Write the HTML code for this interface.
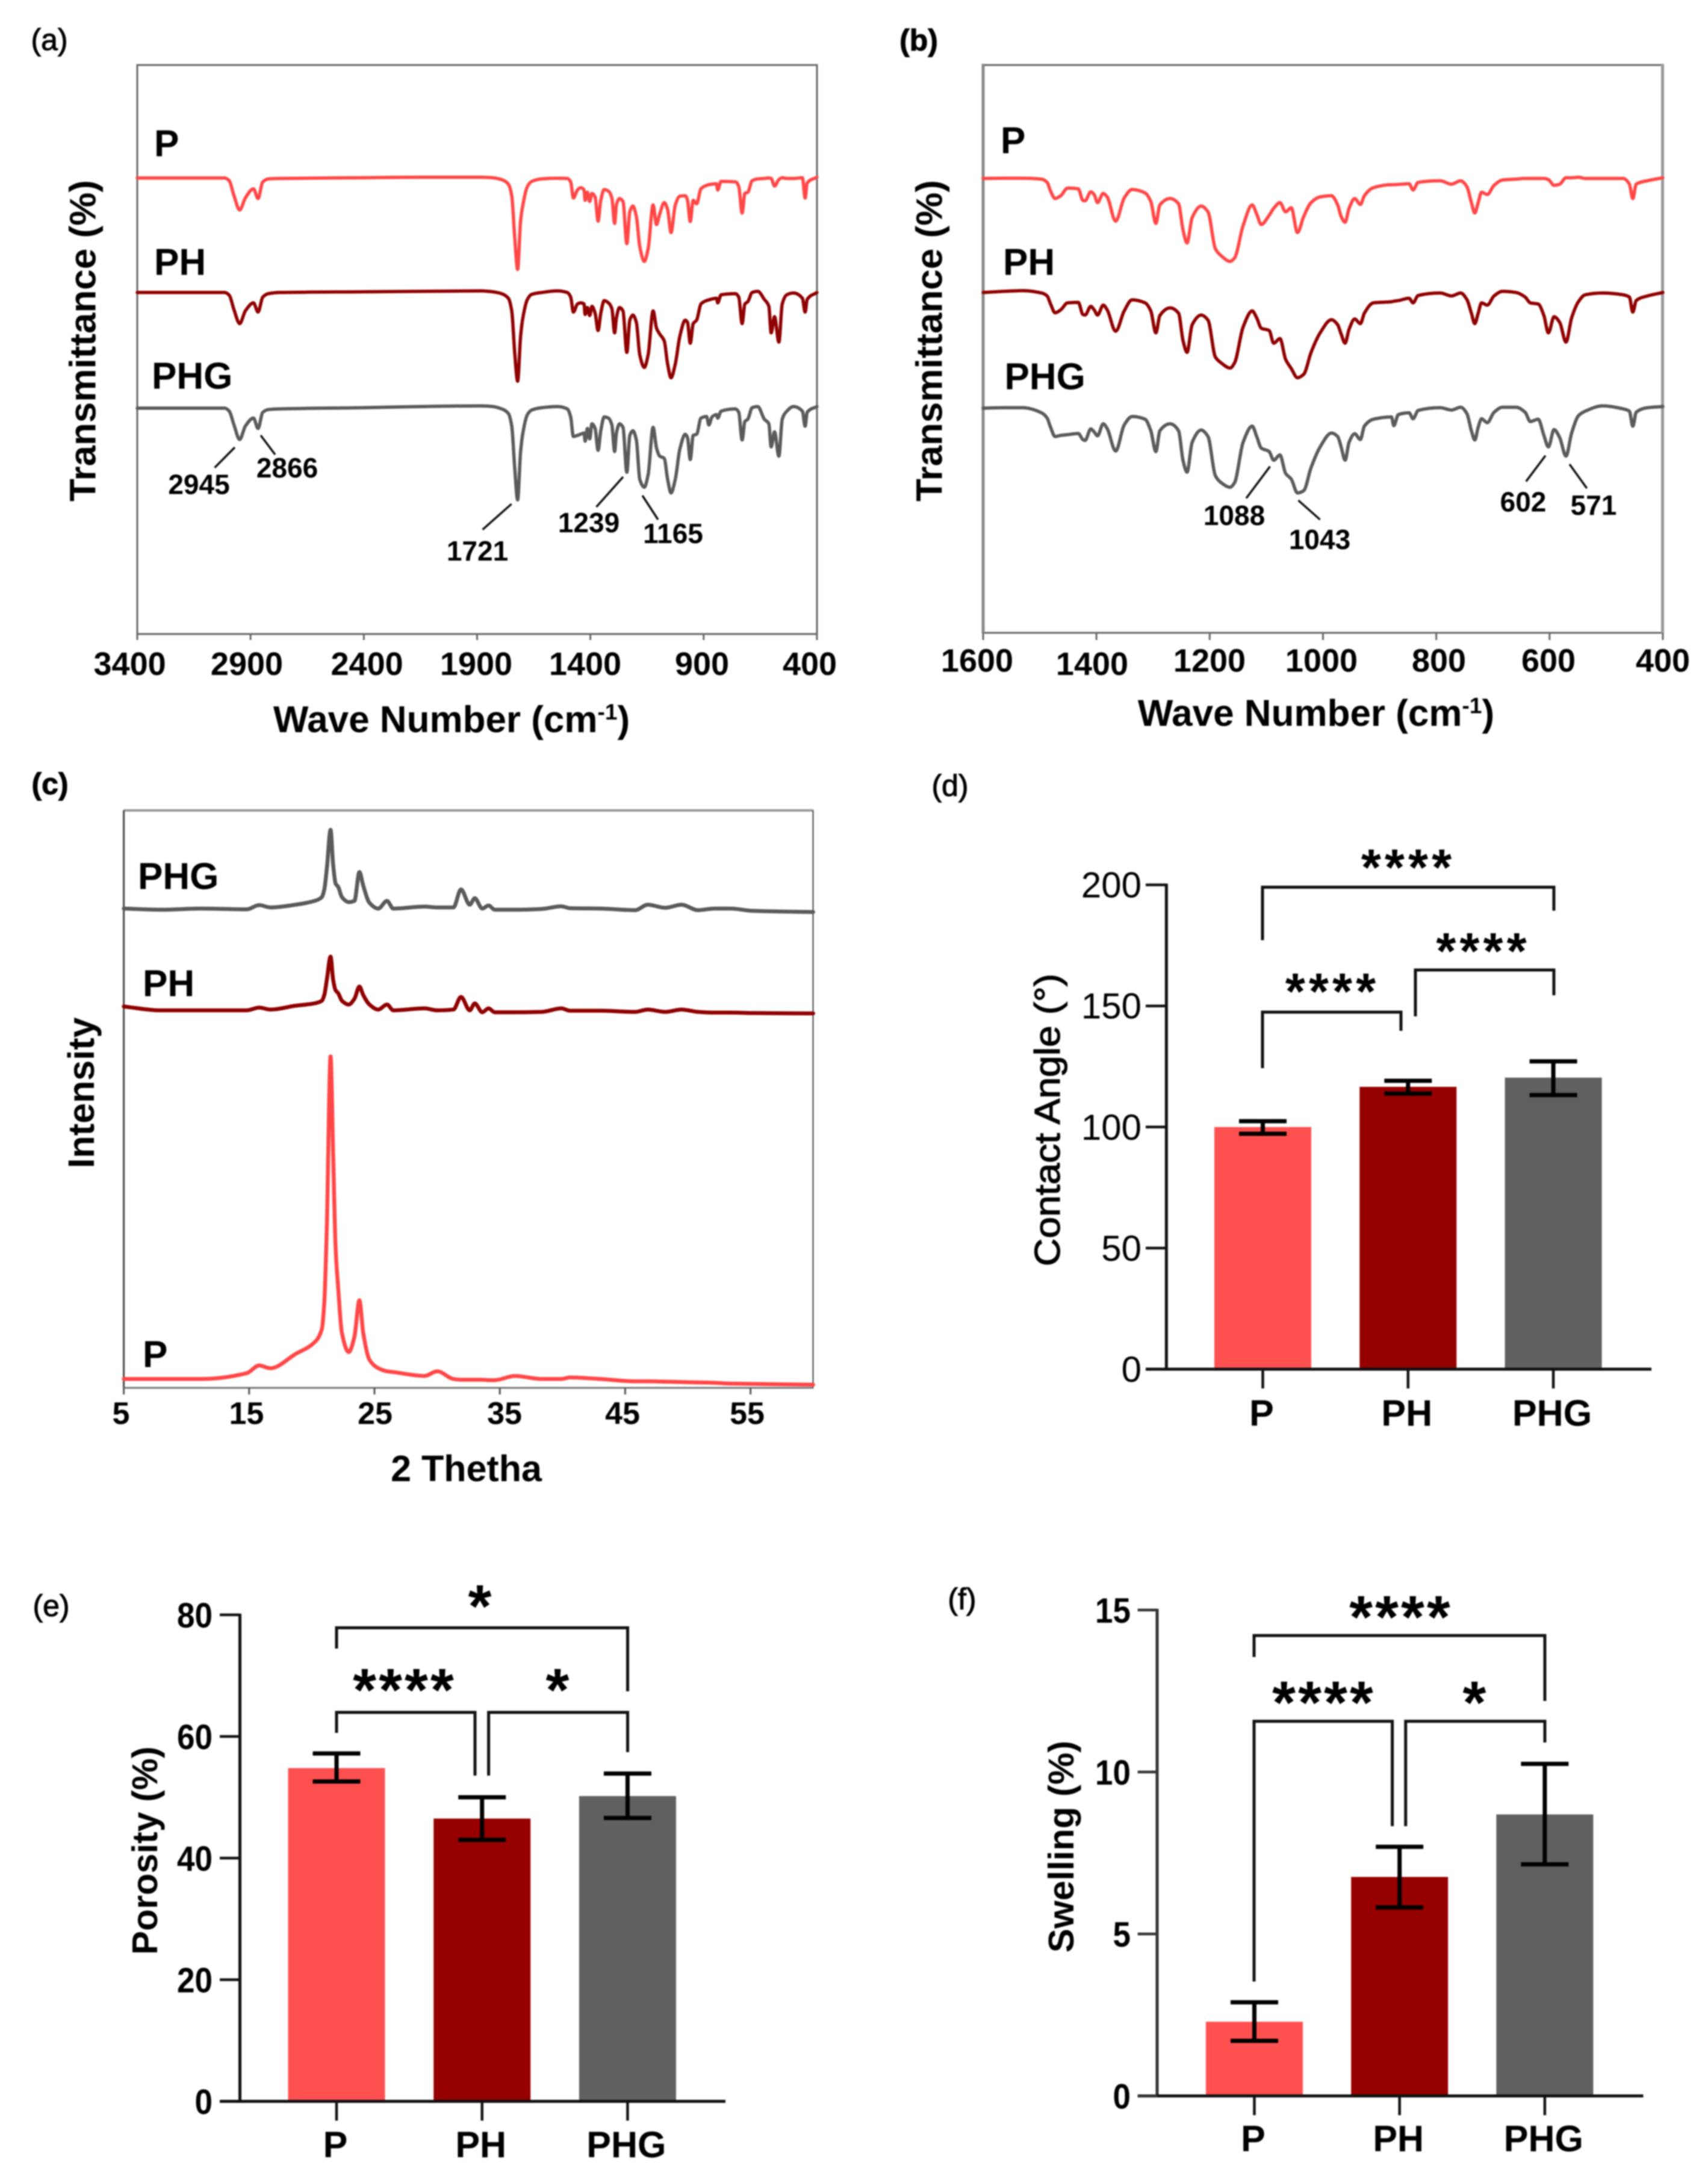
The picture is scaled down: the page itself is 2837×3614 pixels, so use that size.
<!DOCTYPE html>
<html lang="en">
<head>
<meta charset="utf-8">
<title>Characterisation of P, PH and PHG scaffolds</title>
<style>
  html, body { margin: 0; padding: 0; background: #fff; }
  svg { display: block; filter: blur(1px); }
  text { font-family: "Liberation Sans", Arial, sans-serif; fill: #000; }
  .b { font-weight: bold; }
  .series-label { font-size: 62px; font-weight: bold; }
  .tick-a { font-size: 54px; font-weight: bold; text-anchor: middle; }
  .tick-c { font-size: 52px; font-weight: bold; text-anchor: middle; }
  .title { font-size: 61px; font-weight: bold; }
  .title-wide { font-size: 62px; font-weight: bold; }
  .peak { font-size: 46px; font-weight: bold; text-anchor: middle; }
  .panel { font-size: 50px; text-anchor: middle; stroke: #000; stroke-width: 1; }
  .stars-d { font-size: 85px; font-weight: bold; text-anchor: middle; letter-spacing: 6px; }
  .stars-big { font-size: 100px; font-weight: bold; text-anchor: middle; letter-spacing: 4px; }
  .leader { stroke: #111; stroke-width: 3.5; fill: none; }
  .bracket { stroke: #111; stroke-width: 5; fill: none; }
</style>
</head>
<body>
<svg xmlns="http://www.w3.org/2000/svg" id="figure" width="2837" height="3614" viewBox="0 0 2837 3614">
  <rect x="0" y="0" width="2837" height="3614" fill="#fff"/>

  <!-- Panel a -->
  <g id="panel-a">
    <text class="panel" x="82" y="83">(a)</text>
    <rect x="228" y="108" width="1129" height="945" fill="none" stroke="#666" stroke-width="3"/>
    <text class="series-label" x="256" y="259.5">P</text>
    <text class="series-label" x="256" y="456.5">PH</text>
    <text class="series-label" x="252" y="645.5">PHG</text>
    <g>
      <text class="tick-a" x="215.6" y="1121">3400</text>
      <text class="tick-a" x="410" y="1121">2900</text>
      <text class="tick-a" x="609.6" y="1121">2400</text>
      <text class="tick-a" x="791" y="1121">1900</text>
      <text class="tick-a" x="972" y="1121">1400</text>
      <text class="tick-a" x="1166" y="1121">900</text>
      <text class="tick-a" x="1345" y="1121">400</text>
    </g>
    <text class="title-wide" x="750" y="1216" text-anchor="middle">Wave Number (cm<tspan font-size="37" dy="-21">-1</tspan><tspan dy="21">)</tspan></text>
    <text class="title" transform="translate(158.5,566) rotate(-90)" text-anchor="middle" textLength="534" lengthAdjust="spacingAndGlyphs">Transmittance (%)</text>
    <g>
      <path class="leader" d="M390 743L356.6 776.7"/>
      <path class="leader" d="M433 723L457 755"/>
      <path class="leader" d="M849.6 837L801.6 879.6"/>
      <path class="leader" d="M1035 792L990.5 842"/>
      <path class="leader" d="M1067 823L1093 863"/>
      <text class="peak" x="330.5" y="820.5">2945</text>
      <text class="peak" x="477" y="793">2866</text>
      <text class="peak" x="793" y="931">1721</text>
      <text class="peak" x="978" y="884">1239</text>
      <text class="peak" x="1118" y="902">1165</text>
    </g>
  </g>

  <!-- Panel b -->
  <g id="panel-b">
    <text class="panel" x="1526" y="84" font-weight="bold">(b)</text>
    <rect x="1633" y="108" width="1128.5" height="943" fill="none" stroke="#666" stroke-width="3"/>
    <line x1="1633" y1="106" x2="1633" y2="1052" stroke="#888" stroke-width="5"/>
    <line x1="2761.5" y1="106" x2="2761.5" y2="1052" stroke="#999" stroke-width="5"/>
    <text class="series-label" x="1662" y="254.5">P</text>
    <text class="series-label" x="1666" y="456.5">PH</text>
    <text class="series-label" x="1668.5" y="646.5">PHG</text>
    <g>
      <text class="tick-a" x="1623" y="1115.5">1600</text>
      <text class="tick-a" x="1814" y="1121">1400</text>
      <text class="tick-a" x="2009" y="1115.5">1200</text>
      <text class="tick-a" x="2195" y="1115.5">1000</text>
      <text class="tick-a" x="2390" y="1115.5">800</text>
      <text class="tick-a" x="2572" y="1115.5">600</text>
      <text class="tick-a" x="2762" y="1115.5">400</text>
    </g>
    <text class="title-wide" x="2186" y="1205.7" text-anchor="middle">Wave Number (cm<tspan font-size="37" dy="-21">-1</tspan><tspan dy="21">)</tspan></text>
    <text class="title" transform="translate(1564.6,566) rotate(-90)" text-anchor="middle" textLength="534" lengthAdjust="spacingAndGlyphs">Transmittance (%)</text>
    <g>
      <path class="leader" d="M2109.5 774.7L2070 827.5"/>
      <path class="leader" d="M2156.5 831L2192.6 863"/>
      <path class="leader" d="M2567 756.7L2534.8 799.6"/>
      <path class="leader" d="M2607 771L2635.8 811"/>
      <text class="peak" x="2050" y="872">1088</text>
      <text class="peak" x="2192" y="912">1043</text>
      <text class="peak" x="2530" y="849.5">602</text>
      <text class="peak" x="2647" y="855">571</text>
    </g>
  </g>

  <!-- Panel c -->
  <g id="panel-c">
    <text class="panel" x="83" y="1319" font-weight="bold">(c)</text>
    <line x1="205" y1="1346" x2="1351" y2="1346" stroke="#999" stroke-width="4"/>
    <line x1="205.6" y1="1346" x2="205.6" y2="2306" stroke="#444" stroke-width="3"/>
    <line x1="1350.5" y1="1346" x2="1350.5" y2="2306" stroke="#444" stroke-width="2"/>
    <line x1="205" y1="2305" x2="1351" y2="2305" stroke="#777" stroke-width="3"/>
    <text class="series-label" x="229" y="1476.5">PHG</text>
    <text class="series-label" x="237" y="1654.5">PH</text>
    <text class="series-label" x="237" y="2270.5">P</text>
    <g>
      <text class="tick-c" x="201" y="2365">5</text>
      <text class="tick-c" x="409.4" y="2365">15</text>
      <text class="tick-c" x="623" y="2365">25</text>
      <text class="tick-c" x="838" y="2365">35</text>
      <text class="tick-c" x="1034" y="2365">45</text>
      <text class="tick-c" x="1241" y="2365">55</text>
    </g>
    <text class="title" x="774.5" y="2460" text-anchor="middle">2 Thetha</text>
    <text class="title" transform="translate(156,1815) rotate(-90)" text-anchor="middle">Intensity</text>
  </g>

  <!-- Panel d -->
  <g id="panel-d">
    <text class="panel" x="1578" y="1322">(d)</text>
    <text transform="translate(1760,1860) rotate(-90)" font-size="59" text-anchor="middle" textLength="486" lengthAdjust="spacingAndGlyphs" stroke="#000" stroke-width="1.2">Contact Angle (°)</text>
    <g id="brackets-d">
      <path class="bracket" d="M2097 1561.5V1473.5H2581V1512.5"/>
      <path class="bracket" d="M2097 1774V1681H2327V1712"/>
      <path class="bracket" d="M2351 1688V1611H2581V1653"/>
      <text class="stars-d" x="2339" y="1470">****</text>
      <text class="stars-d" x="2213" y="1676">****</text>
      <text class="stars-d" x="2463.5" y="1609">****</text>
    </g>
  </g>

  <!-- Panel e -->
  <g id="panel-e">
    <text class="panel" x="85" y="2684">(e)</text>
    <text class="b" transform="translate(261,3073.5) rotate(-90)" font-size="59" text-anchor="middle" textLength="346" lengthAdjust="spacingAndGlyphs">Porosity (%)</text>
    <g id="brackets-e">
      <path class="bracket" d="M559 2738V2703.5H1042.5V2809"/>
      <path class="bracket" d="M559 2878V2844H789V2949"/>
      <path class="bracket" d="M811.6 2949V2844H1042.5V2910"/>
      <text class="stars-big" x="799" y="2702">*</text>
      <text class="stars-big" x="672" y="2841">****</text>
      <text class="stars-big" x="928" y="2841">*</text>
    </g>
  </g>

  <!-- Panel f -->
  <g id="panel-f">
    <text class="panel" x="1598" y="2673">(f)</text>
    <text class="b" transform="translate(1783,3067) rotate(-90)" font-size="59" text-anchor="middle" textLength="352" lengthAdjust="spacingAndGlyphs">Swelling (%)</text>
    <g id="brackets-f">
      <path class="bracket" d="M2083 2752V2716.4H2566V2825"/>
      <path class="bracket" d="M2083 3291V2858.7H2312.6V3033"/>
      <path class="bracket" d="M2334.8 3033V2858.7H2566V2894"/>
      <text class="stars-big" x="2327" y="2720">****</text>
      <text class="stars-big" x="2199" y="2862">****</text>
      <text class="stars-big" x="2451" y="2862">*</text>
    </g>
  </g>
</svg>

<script>
// ---------- Panel (a): FTIR 3400-400 cm-1 ----------
const irFullTicks = [3400, 2900, 2400, 1900, 1400, 900, 400];
const irFullWave = [
  3400,3014,2994,2973,2948,2923,2887,2867,2846,2821,2770,2404,2150,
  1880,1831,1792,1762,1747,1734,1721,1708,1698,1678,
  1659,1615,1546,1502,1487,1475,1457,1443,1428,1423,
  1413,1403,1393,1379,1366,1354,1339,1320,1305,1293,
  1285,1271,1256,1239,1226,1212,1197,1182,1162,1145,
  1123,1108,1094,1074,1059,1044,1025,1005,981,971,
  959,946,931,912,887,877,863,843,838,823,
  759,745,730,718,705,686,661,632,612,602,
  587,568,553,533,504,464,452,443,400];
const irFullP = [
  93,93,105,170,232,180,140,182,110,97,95,92,90,
  90,92,100,120,170,350,490,280,210,130,
  108,97,94,95,110,180,145,135,145,190,
  155,195,160,175,280,190,143,150,180,290,
  210,182,195,378,240,215,260,390,455,400,
  210,295,250,200,230,330,210,172,170,190,
  282,190,205,140,125,122,120,118,145,108,
  110,130,245,160,155,105,97,95,93,95,
  128,100,92,95,95,92,180,115,90];
const irFullPH = [
  590,590,602,665,725,670,635,675,610,595,590,587,585,
  583,587,595,615,670,850,975,780,700,620,
  598,590,583,590,610,675,640,635,640,685,
  655,690,650,680,755,680,625,635,660,765,
  700,655,670,850,710,688,720,860,915,860,
  670,745,770,800,900,960,900,780,710,720,
  810,725,710,640,625,622,618,615,635,600,
  595,610,725,640,630,590,585,620,650,765,
  695,805,640,600,592,615,675,620,590];
const irFullPHG = [
  1092,1092,1105,1165,1228,1170,1135,1180,1110,1098,1095,1090,1085,
  1082,1085,1095,1115,1170,1350,1490,1280,1200,1120,
  1100,1090,1085,1095,1130,1215,1210,1205,1200,1235,
  1180,1225,1160,1180,1275,1190,1130,1135,1165,1280,
  1200,1160,1175,1370,1210,1190,1230,1400,1435,1380,
  1175,1265,1300,1310,1400,1460,1400,1270,1205,1220,
  1315,1210,1205,1135,1128,1165,1130,1120,1135,1105,
  1095,1110,1230,1150,1140,1090,1085,1140,1160,1260,
  1195,1300,1140,1105,1085,1105,1170,1110,1085];

// ---------- Panel (b): FTIR 1600-400 cm-1 ----------
const irFingerTicks = [1600, 1400, 1200, 1000, 800, 600, 400];
const irFingerWave = [
  1600,1563,1530,1497,1487,1481,1473,1463,1451,1432,
  1424,1420,1410,1404,1398,1388,1381,1366,1351,1337,
  1314,1304,1295,1288,1270,1255,1247,1240,1231,1215,
  1203,1190,1180,1164,1156,1141,1125,1117,1109,1095,
  1087,1076,1066,1056,1045,1034,1021,1005,985,
  974,968,961,954,944,934,927,911,879,875,
  867,848,841,832,793,773,757,746,738,732,
  726,720,710,698,683,659,643,634,620,610,
  602,592,582,571,561,549,537,506,470,459,
  453,447,427,400];
const irFingerP = [
  95,94,94,98,112,150,182,170,137,140,
  190,192,153,165,200,160,175,280,180,143,
  158,195,290,210,182,205,320,375,265,215,
  240,400,430,455,440,300,210,250,295,255,
  225,200,240,222,330,260,200,175,170,
  210,260,285,225,182,208,170,135,122,122,
  121,118,145,112,105,120,105,130,200,245,
  200,155,165,125,102,98,95,95,95,95,
  100,125,120,92,92,90,95,95,95,120,
  182,120,105,92];
const irFingerPH = [
  590,585,582,592,605,640,678,665,635,633,
  685,688,650,665,688,645,665,758,670,622,
  635,670,765,690,657,680,800,850,730,688,
  710,870,895,918,895,740,670,700,745,755,
  810,790,880,920,960,945,850,765,708,
  730,770,810,750,705,725,680,635,630,628,
  625,615,635,603,592,605,592,620,680,725,
  680,635,645,605,585,590,610,635,640,690,
  765,695,720,805,700,630,600,592,600,610,
  675,625,605,590];
const irFingerPHG = [
  1092,1090,1090,1112,1135,1175,1215,1210,1207,1202,
  1228,1232,1182,1195,1212,1160,1180,1278,1165,1128,
  1140,1190,1280,1190,1160,1190,1320,1370,1240,1187,
  1215,1385,1415,1435,1415,1240,1170,1215,1265,1280,
  1318,1295,1375,1400,1460,1450,1350,1260,1200,
  1215,1260,1318,1240,1203,1228,1170,1140,1130,1168,
  1120,1112,1138,1102,1090,1100,1088,1115,1190,1230,
  1175,1138,1155,1110,1088,1088,1110,1150,1140,1210,
  1260,1185,1220,1300,1200,1125,1105,1082,1095,1105,
  1170,1110,1090,1085];

// ---------- Panel (c): XRD ----------
const xrdTicks = [5, 15, 25, 35, 45, 55];
const xrdTheta = [
  5,7.9,11.2,14.8,15.8,16.7,18.7,20.2,20.8,21,
  21.2,21.5,21.7,21.9,22.1,22.4,22.95,23.4,23.8,24.1,
  24.6,25.3,26,26.5,29,30,31.3,31.9,32.6,33,
  33.6,34.1,34.6,36.2,38.35,39.9,40.6,43,45.8,46.8,
  48.2,49.5,50.8,52.1,53.4,55.2,60];
const xrdP = [
  1490,1490,1490,1475,1455,1462,1425,1395,1360,1290,
  1090,650,900,1150,1250,1370,1420,1380,1285,1370,
  1440,1462,1470,1472,1482,1470,1490,1492,1492,1492,
  1492,1493,1493,1482,1490,1490,1486,1490,1496,1496,
  1497,1498,1499,1500,1502,1503,1505];
const xrdPH = [
  520,530,530,530,523,528,518,512,505,490,
  450,390,450,478,485,505,515,500,468,490,
  515,528,515,530,525,530,528,495,530,512,
  535,525,535,535,534,525,531,531,534,528,
  534,528,534,536,536,537,538];
const xrdPHG = [
  265,268,265,267,256,262,255,245,235,215,
  160,60,150,200,208,235,248,245,170,205,
  250,265,245,265,260,262,262,215,255,238,
  265,257,268,268,266,259,264,265,269,255,
  263,255,269,265,265,271,274];

// ---------- Bar charts ----------
const barCategories = ['P', 'PH', 'PHG'];
const contactTicks = [0, 50, 100, 150, 200];
const contactMeans = [100, 116.6, 120.4];
const contactUpper = [102.4, 119.1, 127.1];
const contactLower = [97.2, 113.8, 113.2];
const porosityTicks = [0, 20, 40, 60, 80];
const porosityMeans = [54.8, 46.5, 50.2];
const porosityUpper = [57.2, 50.0, 53.9];
const porosityLower = [52.6, 43.0, 46.6];
const swellingTicks = [0, 5, 10, 15];
const swellingMeans = [2.29, 6.76, 8.69];
const swellingUpper = [2.89, 7.69, 10.25];
const swellingLower = [1.70, 5.82, 7.15];

const SVG_NS = 'http://www.w3.org/2000/svg';
const COLOR_P = '#ff4747';
const COLOR_PH = '#8f0000';
const COLOR_PHG = '#5a5a5a';
const BAR_COLORS = ['#ff5050', '#960000', '#606060'];

// axis functions
const xFull = w => 228 + (3400 - w) * 0.3763;
const xFinger = w => 1633 + (1600 - w) * 0.9408;
const yIr = v => 260 + v / 2.613;
const xXrd = t => 205.6 + (t - 5) * 20.82;
const yXrd = v => 1340 + v / 1.568;
const yContact = v => 2274 - v * 4.022;
const yPorosity = v => 3490 - v * 10.1;
const ySwelling = v => 3481 - v * 53.8;
const bandContact = i => 2097.5 + i * 241.3;
const bandPorosity = i => 559 + i * 241.7;
const bandSwelling = i => 2083.5 + i * 241.2;

// monotone cubic interpolation so peaks stay rounded without overshoot
function smoothPath(xs, ys) {
  const n = xs.length;
  const slopes = [];
  for (let i = 0; i < n - 1; i++) slopes.push((ys[i + 1] - ys[i]) / (xs[i + 1] - xs[i]));
  const m = new Array(n).fill(0);
  m[0] = slopes[0];
  m[n - 1] = slopes[n - 2];
  for (let i = 1; i < n - 1; i++) {
    if (slopes[i - 1] * slopes[i] <= 0) { m[i] = 0; continue; }
    const h0 = xs[i] - xs[i - 1], h1 = xs[i + 1] - xs[i];
    const w1 = 2 * h1 + h0, w2 = h1 + 2 * h0;
    m[i] = (w1 + w2) / (w1 / slopes[i - 1] + w2 / slopes[i]);
  }
  let d = 'M' + xs[0].toFixed(1) + ' ' + ys[0].toFixed(1);
  for (let i = 0; i < n - 1; i++) {
    const h = (xs[i + 1] - xs[i]) / 3;
    d += 'C' + (xs[i] + h).toFixed(1) + ' ' + (ys[i] + m[i] * h).toFixed(1) + ' ' +
      (xs[i + 1] - h).toFixed(1) + ' ' + (ys[i + 1] - m[i + 1] * h).toFixed(1) + ' ' +
      xs[i + 1].toFixed(1) + ' ' + ys[i + 1].toFixed(1);
  }
  return d;
}

function drawCurve(parent, xValues, yValues, xFn, yFn, color, width) {
  const el = document.createElementNS(SVG_NS, 'path');
  el.setAttribute('d', smoothPath(xValues.map(xFn), yValues.map(yFn)));
  el.setAttribute('fill', 'none');
  el.setAttribute('stroke', color);
  el.setAttribute('stroke-width', width);
  el.setAttribute('stroke-linejoin', 'round');
  el.setAttribute('stroke-linecap', 'round');
  parent.appendChild(el);
  return el;
}

function drawXTicks(parent, ticks, xFn, y0, y1, color, width) {
  ticks.forEach(t => {
    const el = document.createElementNS(SVG_NS, 'line');
    
    
    el.setAttribute('x1', xFn(t));
    el.setAttribute('x2', xFn(t));
    el.setAttribute('y1', y0);
    el.setAttribute('y2', y1);
    el.setAttribute('stroke', color);
    el.setAttribute('stroke-width', width);
    parent.appendChild(el);
  });
}

function drawBarChart(panelId, opts) {
  const panel = document.getElementById(panelId);
  const brackets = panel.querySelector('[id^="brackets"]');
  const layer = document.createElementNS(SVG_NS, 'g');
  
  
  panel.insertBefore(layer, brackets);

  barCategories.forEach((cat, i) => {
    const cx = opts.band(i);
    const bar = document.createElementNS(SVG_NS, 'rect');
    
    
    bar.setAttribute('x', cx - 80.5);
    bar.setAttribute('width', 161);
    bar.setAttribute('y', opts.y(opts.means[i]));
    bar.setAttribute('height', opts.y(0) - opts.y(opts.means[i]));
    bar.setAttribute('fill', BAR_COLORS[i]);
    layer.appendChild(bar);
  });

  barCategories.forEach((cat, i) => {
    const cx = opts.band(i);
    const top = opts.y(opts.upper[i]);
    const bottom = opts.y(opts.lower[i]);
    const err = document.createElementNS(SVG_NS, 'path');
    
    
    err.setAttribute('d', 'M' + (cx - 39.5) + ' ' + top + 'H' + (cx + 39.5) + 'M' + cx + ' ' + top + 'V' + bottom + 'M' + (cx - 39.5) + ' ' + bottom + 'H' + (cx + 39.5));
    err.setAttribute('fill', 'none');
    err.setAttribute('stroke', '#000');
    err.setAttribute('stroke-width', 7);
    layer.appendChild(err);
  });

  const yAxis = document.createElementNS(SVG_NS, 'line');
  
  
  yAxis.setAttribute('x1', opts.axisX);
  yAxis.setAttribute('x2', opts.axisX);
  yAxis.setAttribute('y1', opts.y(opts.ticks[opts.ticks.length - 1]) - 2);
  yAxis.setAttribute('y2', opts.y(0) + 2);
  yAxis.setAttribute('stroke', opts.axisColor);
  yAxis.setAttribute('stroke-width', 5);
  layer.appendChild(yAxis);

  const xAxis = document.createElementNS(SVG_NS, 'line');
  
  
  xAxis.setAttribute('x1', opts.tickLeft);
  xAxis.setAttribute('x2', opts.axisRight);
  xAxis.setAttribute('y1', opts.y(0));
  xAxis.setAttribute('y2', opts.y(0));
  xAxis.setAttribute('stroke', '#111');
  xAxis.setAttribute('stroke-width', 5);
  layer.appendChild(xAxis);

  opts.ticks.forEach(t => {
    const tick = document.createElementNS(SVG_NS, 'line');
    
    
    tick.setAttribute('x1', opts.tickLeft);
    tick.setAttribute('x2', opts.axisX);
    tick.setAttribute('y1', opts.y(t));
    tick.setAttribute('y2', opts.y(t));
    tick.setAttribute('stroke', opts.axisColor);
    tick.setAttribute('stroke-width', 4.5);
    layer.appendChild(tick);

    const label = document.createElementNS(SVG_NS, 'text');
    
    
    label.setAttribute('x', opts.labelRight);
    label.setAttribute('y', opts.y(t) + 21);
    label.setAttribute('text-anchor', 'end');
    label.setAttribute('font-size', opts.tickFont);
    if (opts.tickBold) label.setAttribute('font-weight', 'bold');
    if (opts.tickBold) label.setAttribute('textLength', String(t).length * 29.5);
    if (opts.tickBold) label.setAttribute('lengthAdjust', 'spacingAndGlyphs');
    label.textContent = t;
    layer.appendChild(label);
  });

  barCategories.forEach((cat, i) => {
    const cx = opts.band(i);
    const tick = document.createElementNS(SVG_NS, 'line');
    
    
    tick.setAttribute('x1', cx);
    tick.setAttribute('x2', cx);
    tick.setAttribute('y1', opts.y(0));
    tick.setAttribute('y2', opts.y(0) + 32);
    tick.setAttribute('stroke', '#111');
    tick.setAttribute('stroke-width', 4.5);
    layer.appendChild(tick);

    const label = document.createElementNS(SVG_NS, 'text');
    
    
    label.setAttribute('x', cx - 2);
    label.setAttribute('y', opts.catBaseline);
    label.setAttribute('text-anchor', 'middle');
    label.setAttribute('font-size', 61);
    label.setAttribute('font-weight', 'bold');
    label.textContent = cat;
    layer.appendChild(label);
  });
}

function drawIrPanel(panelId, wave, series, xFn, ticks, tickTop, tickBottom) {
  const panel = document.getElementById(panelId);
  drawXTicks(panel, ticks, xFn, tickTop, tickBottom, '#666', 3);
  const lineP = drawCurve(panel, wave, series[0], xFn, yIr, COLOR_P, 5.5);
  
  
  const linePH = drawCurve(panel, wave, series[1], xFn, yIr, COLOR_PH, 5.5);
  
  
  const linePHG = drawCurve(panel, wave, series[2], xFn, yIr, COLOR_PHG, 5.5);
  
  
}

drawIrPanel('panel-a', irFullWave, [irFullP, irFullPH, irFullPHG], xFull, irFullTicks, 1053, 1063);
drawIrPanel('panel-b', irFingerWave, [irFingerP, irFingerPH, irFingerPHG], xFinger, irFingerTicks, 1051, 1063);

(function () {
  const panel = document.getElementById('panel-c');
  drawXTicks(panel, xrdTicks, xXrd, 2305, 2316, '#555', 3);
  const lineP = drawCurve(panel, xrdTheta, xrdP, xXrd, yXrd, COLOR_P, 6.5);
  
  
  const linePH = drawCurve(panel, xrdTheta, xrdPH, xXrd, yXrd, COLOR_PH, 6.5);
  
  
  const linePHG = drawCurve(panel, xrdTheta, xrdPHG, xXrd, yXrd, COLOR_PHG, 6.5);
  
  
})();

drawBarChart('panel-d', {
  band: bandContact, y: yContact, means: contactMeans, upper: contactUpper, lower: contactLower,
  ticks: contactTicks, axisX: 1937.4, tickLeft: 1903, axisRight: 2743, labelRight: 1896,
  tickFont: 60, tickBold: false, catBaseline: 2368, axisColor: '#111'
});
drawBarChart('panel-e', {
  band: bandPorosity, y: yPorosity, means: porosityMeans, upper: porosityUpper, lower: porosityLower,
  ticks: porosityTicks, axisX: 398.5, tickLeft: 365, axisRight: 1205, labelRight: 353,
  tickFont: 58, tickBold: true, catBaseline: 3583, axisColor: '#111'
});
drawBarChart('panel-f', {
  band: bandSwelling, y: ySwelling, means: swellingMeans, upper: swellingUpper, lower: swellingLower,
  ticks: swellingTicks, axisX: 1922, tickLeft: 1889.7, axisRight: 2729.5, labelRight: 1878,
  tickFont: 58, tickBold: true, catBaseline: 3573, axisColor: '#333'
});
</script>
</body>
</html>
